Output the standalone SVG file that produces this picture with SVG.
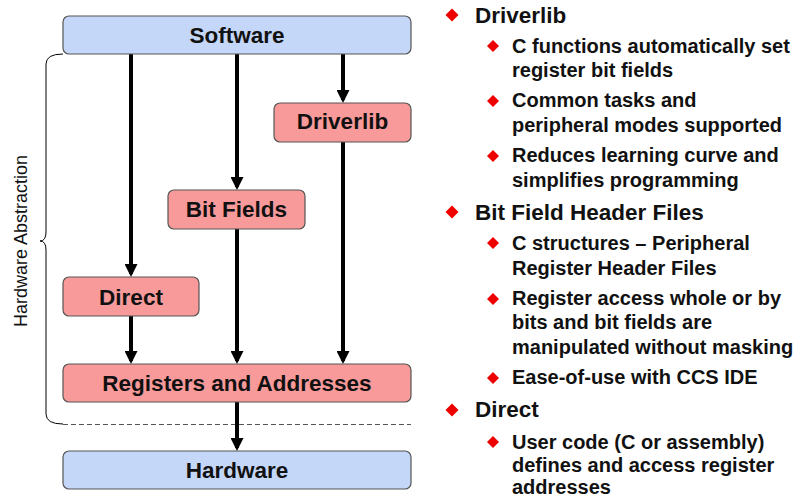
<svg xmlns="http://www.w3.org/2000/svg" width="803" height="499" viewBox="0 0 803 499">
<style>
.blue{fill:#c5d7f8;stroke:#555;stroke-width:1.2}
.red{fill:#f99a9a;stroke:#555;stroke-width:1.2}
.lbl{font-family:"Liberation Sans",Arial,sans-serif;font-weight:bold;font-size:22.5px;fill:#111;text-anchor:middle}
.h{font-family:"Liberation Sans",Arial,sans-serif;font-weight:bold;font-size:22.5px;fill:#111}
.s{font-family:"Liberation Sans",Arial,sans-serif;font-weight:bold;font-size:20px;fill:#111}
.dia{fill:#ee0000}
.arr{stroke:#000;stroke-width:4;fill:none;marker-end:url(#ah)}
</style>
<defs>
<marker id="ah" markerUnits="userSpaceOnUse" viewBox="0 0 13 13" markerWidth="13" markerHeight="13" refX="10" refY="6.5" orient="auto">
<path d="M0,0 L13,6.5 L0,13 z" fill="#000"/>
</marker>
<path id="d1" d="M0,-6.5 L6.5,0 L0,6.5 L-6.5,0 z"/>
<path id="d2" d="M0,-6 L6,0 L0,6 L-6,0 z"/>
</defs>

<g id="brace">
<path d="M63,54 Q46,54 46,64 L46,232 Q46,241 40,241 Q46,241 46,250 L46,414 Q46,424 63,424" fill="none" stroke="#000" stroke-width="1"/>
<line x1="63" y1="424.5" x2="411" y2="424.5" stroke="#555" stroke-width="1" stroke-dasharray="5,3"/>
<text transform="translate(27,241) rotate(-90)" font-family="'Liberation Sans',Arial,sans-serif" font-size="18" text-anchor="middle" fill="#111">Hardware Abstraction</text>
</g>

<g id="connectors">
<line class="arr" x1="131" y1="54" x2="131" y2="274"/>
<line class="arr" x1="237" y1="54" x2="237" y2="187"/>
<line class="arr" x1="343" y1="54" x2="343" y2="100"/>
<line class="arr" x1="131" y1="316" x2="131" y2="361"/>
<line class="arr" x1="237" y1="229" x2="237" y2="361"/>
<line class="arr" x1="343" y1="142" x2="343" y2="361"/>
<line class="arr" x1="237" y1="402" x2="237" y2="448"/>
</g>

<g id="software">
<rect class="blue" x="63" y="16" width="348" height="38" rx="6"/>
<text class="lbl" x="237" y="43">Software</text>
</g>
<g id="driverlib">
<rect class="red" x="274" y="103" width="137" height="39" rx="6"/>
<text class="lbl" x="342.5" y="129">Driverlib</text>
</g>
<g id="bitfields">
<rect class="red" x="168" y="190" width="137" height="39" rx="6"/>
<text class="lbl" x="236.5" y="217">Bit Fields</text>
</g>
<g id="direct">
<rect class="red" x="63" y="277" width="136" height="39" rx="6"/>
<text class="lbl" x="131" y="305">Direct</text>
</g>
<g id="registers">
<rect class="red" x="63" y="364" width="348" height="38" rx="6"/>
<text class="lbl" x="237" y="391">Registers and Addresses</text>
</g>
<g id="hardware">
<rect class="blue" x="63" y="451" width="348" height="38" rx="6"/>
<text class="lbl" x="237" y="478">Hardware</text>
</g>

<g id="bullets">
<use href="#d1" class="dia" x="452" y="15"/>
<text class="h" x="475" y="23">Driverlib</text>
<use href="#d2" class="dia" x="493" y="46"/>
<text class="s" x="512" y="53">C functions automatically set</text>
<text class="s" x="512" y="77">register bit fields</text>
<use href="#d2" class="dia" x="493" y="101"/>
<text class="s" x="512" y="107">Common tasks and</text>
<text class="s" x="512" y="132">peripheral modes supported</text>
<use href="#d2" class="dia" x="493" y="156"/>
<text class="s" x="512" y="162">Reduces learning curve and</text>
<text class="s" x="512" y="187">simplifies programming</text>
<use href="#d1" class="dia" x="452" y="212"/>
<text class="h" x="475" y="220">Bit Field Header Files</text>
<use href="#d2" class="dia" x="493" y="243"/>
<text class="s" x="512" y="250">C structures – Peripheral</text>
<text class="s" x="512" y="275">Register Header Files</text>
<use href="#d2" class="dia" x="493" y="299"/>
<text class="s" x="512" y="305">Register access whole or by</text>
<text class="s" x="512" y="329">bits and bit fields are</text>
<text class="s" x="512" y="354">manipulated without masking</text>
<use href="#d2" class="dia" x="493" y="378"/>
<text class="s" x="512" y="384">Ease-of-use with CCS IDE</text>
<use href="#d1" class="dia" x="452" y="410"/>
<text class="h" x="475" y="417">Direct</text>
<use href="#d2" class="dia" x="493" y="442"/>
<text class="s" x="512" y="449">User code (C or assembly)</text>
<text class="s" x="512" y="472">defines and access register</text>
<text class="s" x="512" y="494">addresses</text>
</g>
</svg>
